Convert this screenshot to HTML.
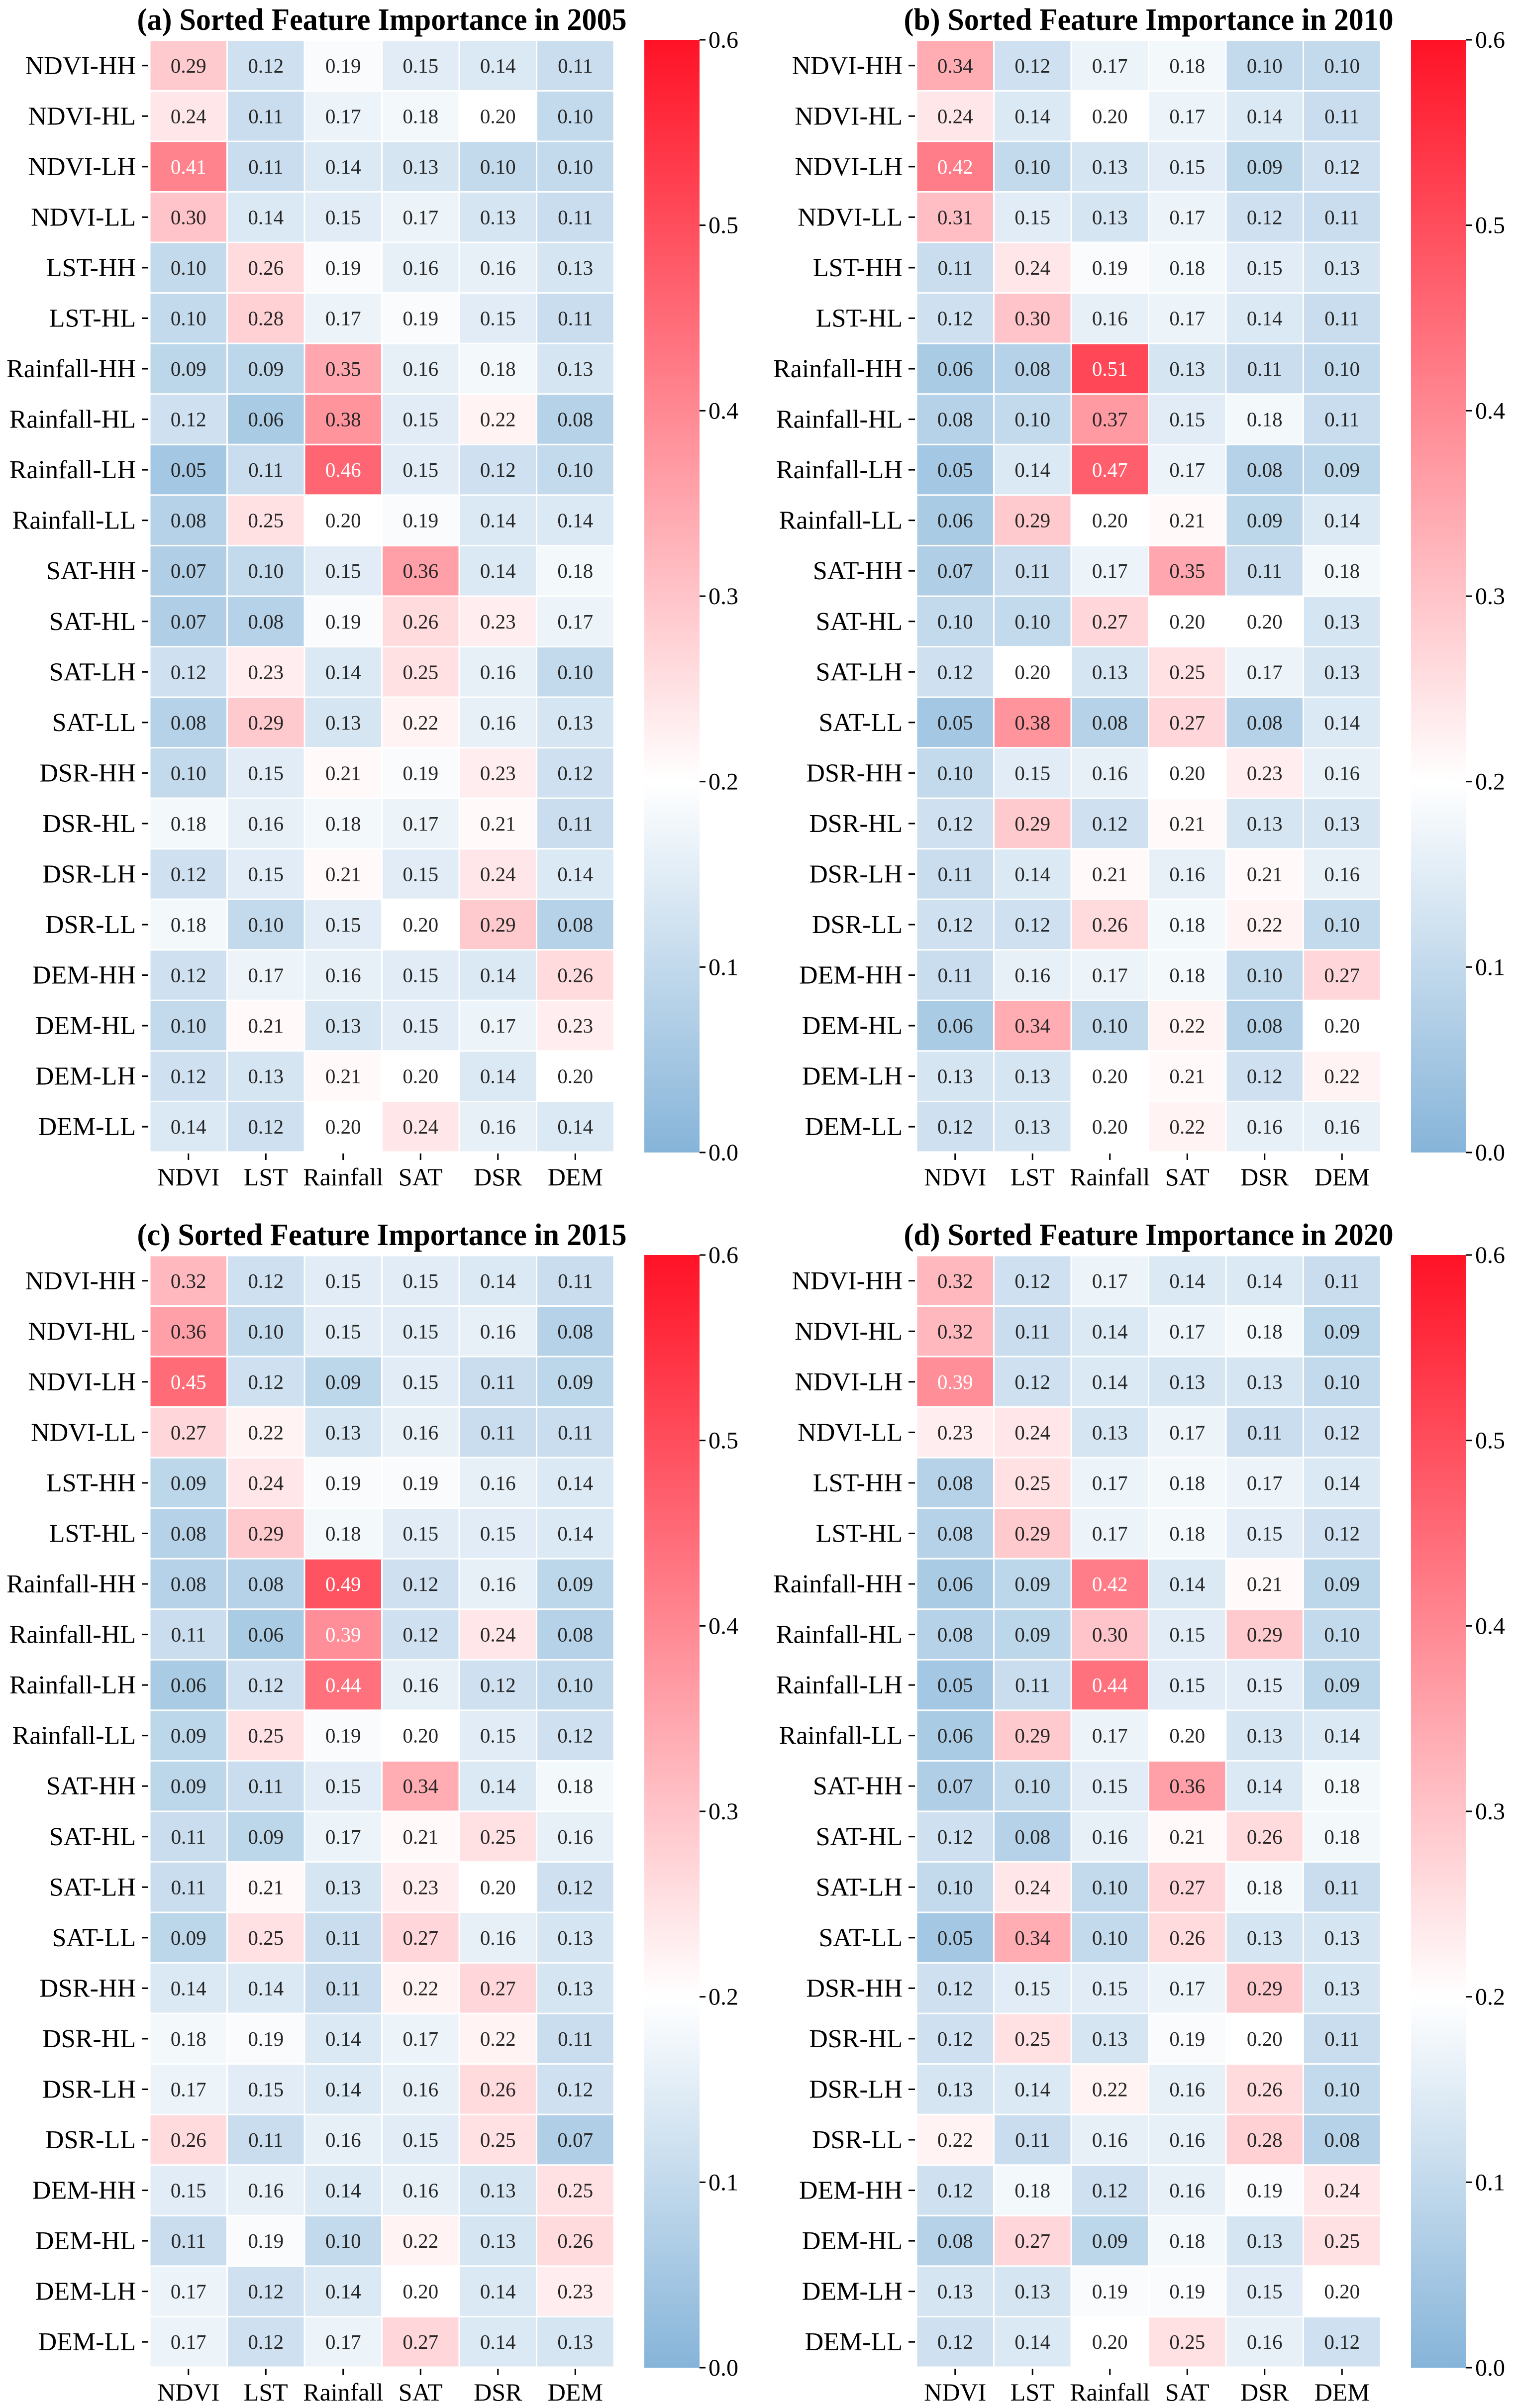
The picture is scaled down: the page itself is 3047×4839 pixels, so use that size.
<!DOCTYPE html>
<html><head><meta charset="utf-8"><style>
html,body{margin:0;padding:0;background:#fff;}
svg{display:block;font-family:"Liberation Serif",serif;}
</style></head><body>
<svg id="fig" width="3047" height="4839" viewBox="0 0 3047 4839" xmlns="http://www.w3.org/2000/svg">
<defs>
<linearGradient id="cbg" x1="0" y1="1" x2="0" y2="0">
<stop offset="0" stop-color="#86b4d9"/>
<stop offset="0.3333" stop-color="#ffffff"/>
<stop offset="1" stop-color="#ff1226"/>
</linearGradient>
</defs>
</svg>
<script>
const rowLabels = ["NDVI-HH","NDVI-HL","NDVI-LH","NDVI-LL","LST-HH","LST-HL","Rainfall-HH","Rainfall-HL","Rainfall-LH","Rainfall-LL","SAT-HH","SAT-HL","SAT-LH","SAT-LL","DSR-HH","DSR-HL","DSR-LH","DSR-LL","DEM-HH","DEM-HL","DEM-LH","DEM-LL"];
const colLabels = ["NDVI","LST","Rainfall","SAT","DSR","DEM"];
const cbTicks = [0.0,0.1,0.2,0.3,0.4,0.5,0.6];
const cbTickLabels = ["0.0","0.1","0.2","0.3","0.4","0.5","0.6"];
const titles = ["(a) Sorted Feature Importance in 2005","(b) Sorted Feature Importance in 2010","(c) Sorted Feature Importance in 2015","(d) Sorted Feature Importance in 2020"];
const values2005 = [
[0.29,0.12,0.19,0.15,0.14,0.11],[0.24,0.11,0.17,0.18,0.20,0.10],[0.41,0.11,0.14,0.13,0.10,0.10],[0.30,0.14,0.15,0.17,0.13,0.11],
[0.10,0.26,0.19,0.16,0.16,0.13],[0.10,0.28,0.17,0.19,0.15,0.11],[0.09,0.09,0.35,0.16,0.18,0.13],[0.12,0.06,0.38,0.15,0.22,0.08],
[0.05,0.11,0.46,0.15,0.12,0.10],[0.08,0.25,0.20,0.19,0.14,0.14],[0.07,0.10,0.15,0.36,0.14,0.18],[0.07,0.08,0.19,0.26,0.23,0.17],
[0.12,0.23,0.14,0.25,0.16,0.10],[0.08,0.29,0.13,0.22,0.16,0.13],[0.10,0.15,0.21,0.19,0.23,0.12],[0.18,0.16,0.18,0.17,0.21,0.11],
[0.12,0.15,0.21,0.15,0.24,0.14],[0.18,0.10,0.15,0.20,0.29,0.08],[0.12,0.17,0.16,0.15,0.14,0.26],[0.10,0.21,0.13,0.15,0.17,0.23],
[0.12,0.13,0.21,0.20,0.14,0.20],[0.14,0.12,0.20,0.24,0.16,0.14]];
const values2010 = [
[0.34,0.12,0.17,0.18,0.10,0.10],[0.24,0.14,0.20,0.17,0.14,0.11],[0.42,0.10,0.13,0.15,0.09,0.12],[0.31,0.15,0.13,0.17,0.12,0.11],
[0.11,0.24,0.19,0.18,0.15,0.13],[0.12,0.30,0.16,0.17,0.14,0.11],[0.06,0.08,0.51,0.13,0.11,0.10],[0.08,0.10,0.37,0.15,0.18,0.11],
[0.05,0.14,0.47,0.17,0.08,0.09],[0.06,0.29,0.20,0.21,0.09,0.14],[0.07,0.11,0.17,0.35,0.11,0.18],[0.10,0.10,0.27,0.20,0.20,0.13],
[0.12,0.20,0.13,0.25,0.17,0.13],[0.05,0.38,0.08,0.27,0.08,0.14],[0.10,0.15,0.16,0.20,0.23,0.16],[0.12,0.29,0.12,0.21,0.13,0.13],
[0.11,0.14,0.21,0.16,0.21,0.16],[0.12,0.12,0.26,0.18,0.22,0.10],[0.11,0.16,0.17,0.18,0.10,0.27],[0.06,0.34,0.10,0.22,0.08,0.20],
[0.13,0.13,0.20,0.21,0.12,0.22],[0.12,0.13,0.20,0.22,0.16,0.16]];
const values2015 = [
[0.32,0.12,0.15,0.15,0.14,0.11],[0.36,0.10,0.15,0.15,0.16,0.08],[0.45,0.12,0.09,0.15,0.11,0.09],[0.27,0.22,0.13,0.16,0.11,0.11],
[0.09,0.24,0.19,0.19,0.16,0.14],[0.08,0.29,0.18,0.15,0.15,0.14],[0.08,0.08,0.49,0.12,0.16,0.09],[0.11,0.06,0.39,0.12,0.24,0.08],
[0.06,0.12,0.44,0.16,0.12,0.10],[0.09,0.25,0.19,0.20,0.15,0.12],[0.09,0.11,0.15,0.34,0.14,0.18],[0.11,0.09,0.17,0.21,0.25,0.16],
[0.11,0.21,0.13,0.23,0.20,0.12],[0.09,0.25,0.11,0.27,0.16,0.13],[0.14,0.14,0.11,0.22,0.27,0.13],[0.18,0.19,0.14,0.17,0.22,0.11],
[0.17,0.15,0.14,0.16,0.26,0.12],[0.26,0.11,0.16,0.15,0.25,0.07],[0.15,0.16,0.14,0.16,0.13,0.25],[0.11,0.19,0.10,0.22,0.13,0.26],
[0.17,0.12,0.14,0.20,0.14,0.23],[0.17,0.12,0.17,0.27,0.14,0.13]];
const values2020 = [
[0.32,0.12,0.17,0.14,0.14,0.11],[0.32,0.11,0.14,0.17,0.18,0.09],[0.39,0.12,0.14,0.13,0.13,0.10],[0.23,0.24,0.13,0.17,0.11,0.12],
[0.08,0.25,0.17,0.18,0.17,0.14],[0.08,0.29,0.17,0.18,0.15,0.12],[0.06,0.09,0.42,0.14,0.21,0.09],[0.08,0.09,0.30,0.15,0.29,0.10],
[0.05,0.11,0.44,0.15,0.15,0.09],[0.06,0.29,0.17,0.20,0.13,0.14],[0.07,0.10,0.15,0.36,0.14,0.18],[0.12,0.08,0.16,0.21,0.26,0.18],
[0.10,0.24,0.10,0.27,0.18,0.11],[0.05,0.34,0.10,0.26,0.13,0.13],[0.12,0.15,0.15,0.17,0.29,0.13],[0.12,0.25,0.13,0.19,0.20,0.11],
[0.13,0.14,0.22,0.16,0.26,0.10],[0.22,0.11,0.16,0.16,0.28,0.08],[0.12,0.18,0.12,0.16,0.19,0.24],[0.08,0.27,0.09,0.18,0.13,0.25],
[0.13,0.13,0.19,0.19,0.15,0.20],[0.12,0.14,0.20,0.25,0.16,0.12]];
const panelValues = [values2005, values2010, values2015, values2020];

const NS = "http://www.w3.org/2000/svg";
const svg = document.getElementById("fig");
const offsets = [[0,0],[1541,0],[0,2442],[1541,2442]];
const HX = 301, HW = 933, HY = 81, HH = 2234;
const CBX = 1295, CBW = 111, CBY0 = 2316, CBY1 = 80, VMIN = 0, VMAX = 0.6, VCEN = 0.2;
const blue = [134,180,217], white = [255,255,255], red = [255,18,38];

function color(v){
  let a,b,t;
  if (v <= VCEN){ a = blue; b = white; t = (v - VMIN)/(VCEN - VMIN); }
  else { a = white; b = red; t = (v - VCEN)/(VMAX - VCEN); }
  t = Math.max(0, Math.min(1, t));
  const c = a.map((x,i)=>Math.round(x + (b[i]-x)*t));
  return "rgb(" + c.join(",") + ")";
}
function el(tag, attrs, parent){
  const e = document.createElementNS(NS, tag);
  for (const k in attrs) e.setAttribute(k, attrs[k]);
  parent.appendChild(e);
  return e;
}

panelValues.forEach((vals, p) => {
  const [ox, oy] = offsets[p];
  const g = el("g", {transform: "translate(" + ox + "," + oy + ")"}, svg);
  
  
  const cw = HW / colLabels.length, rh = HH / rowLabels.length;
  const xScale = j => HX + j * cw;
  const yScale = i => HY + i * rh;
  const cbScale = v => CBY0 - (v - VMIN) / (VMAX - VMIN) * (CBY0 - CBY1);

  const title = el("text", {x: HX + HW/2, y: 60, "text-anchor": "middle", "font-size": 62, "font-weight": "bold", textLength: 984, lengthAdjust: "spacingAndGlyphs"}, g);
  title.textContent = titles[p];
  
  

  vals.forEach((row, i) => {
    row.forEach((v, j) => {
      const r = el("rect", {x: xScale(j), y: yScale(i), width: cw, height: rh, fill: color(v), stroke: "#fff", "stroke-width": 3}, g);
      
      
      const t = el("text", {x: xScale(j) + cw/2, y: yScale(i) + rh/2 + 14, "text-anchor": "middle", "font-size": 41, fill: v >= 0.39 ? "#fff" : "#262626"}, g);
      t.textContent = v.toFixed(2);
      
      
    });
  });

  rowLabels.forEach((lab, i) => {
    const cy = yScale(i) + rh/2;
    const tk = el("line", {x1: 285, x2: 298, y1: cy, y2: cy, stroke: "#000", "stroke-width": 3}, g);
    
    
    const t = el("text", {x: 273, y: cy + 17, "text-anchor": "end", "font-size": 52}, g);
    t.textContent = lab;
    
    
  });

  colLabels.forEach((lab, j) => {
    const cx = xScale(j) + cw/2;
    const tk = el("line", {x1: cx, x2: cx, y1: HY + HH + 3, y2: HY + HH + 16, stroke: "#000", "stroke-width": 3}, g);
    
    
    const t = el("text", {x: cx, y: 2382, "text-anchor": "middle", "font-size": 50}, g);
    t.textContent = lab;
    
    
  });

  const cb = el("rect", {x: CBX, y: CBY1, width: CBW, height: CBY0 - CBY1, fill: "url(#cbg)"}, g);
  
  
  cbTicks.forEach((v, k) => {
    const y = cbScale(v);
    const tk = el("line", {x1: CBX + CBW, x2: CBX + CBW + 12, y1: y, y2: y, stroke: "#000", "stroke-width": 3}, g);
    
    
    const t = el("text", {x: CBX + CBW + 18, y: y + 16, "font-size": 48}, g);
    t.textContent = cbTickLabels[k];
    
    
  });
});
</script>
</body></html>
